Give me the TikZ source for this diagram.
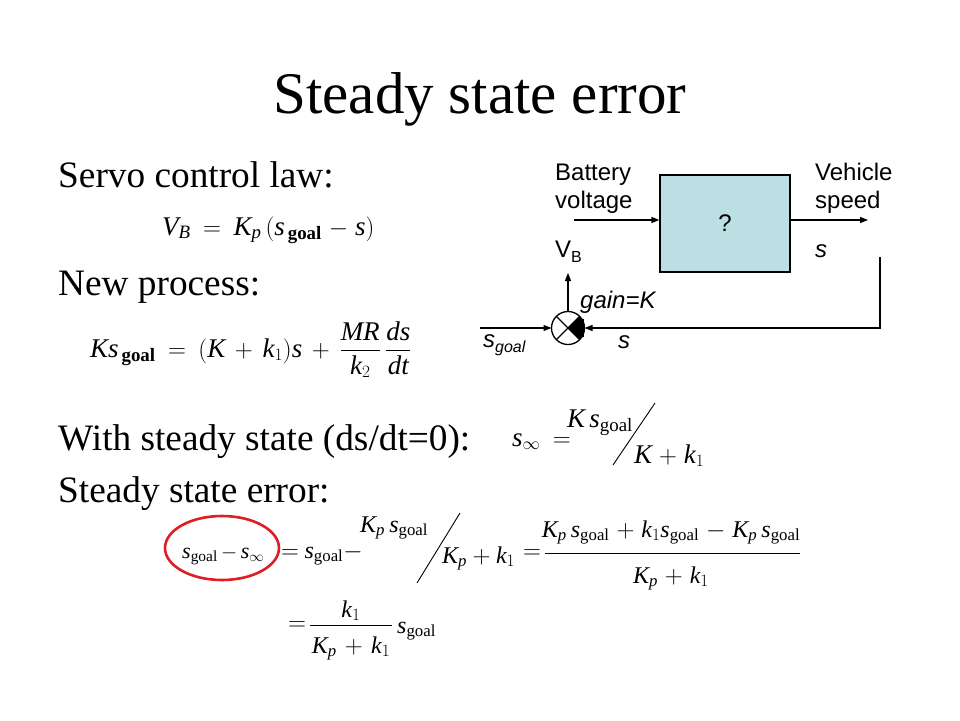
\documentclass[tikz,border=0pt]{standalone}
\usepackage{amsmath}
\usepackage{fontspec}
\setmainfont{Liberation Serif}
\newfontfamily\arialf{Liberation Sans}
\DeclareSymbolFont{letters}{TU}{\rmdefault}{m}{it}
\usetikzlibrary{arrows.meta}
\definecolor{boxfill}{RGB}{187,223,227}
\definecolor{circred}{RGB}{222,30,36}
\tikzset{
  titletxt/.style={inner sep=0pt, anchor=base, font=\fontsize{59}{64}\selectfont},
  bodytxt/.style={inner sep=0pt, anchor=base west, font=\fontsize{37.3}{42}\selectfont},
  eqbig/.style={inner sep=0pt, font=\fontsize{27}{30}\selectfont},
  eqsmall/.style={inner sep=0pt, font=\fontsize{24}{28}\selectfont},
  lab/.style={inner sep=0pt, anchor=base west, font=\arialf\fontsize{24}{28}\selectfont},
  conn/.style={line width=1.3pt, -{Triangle[length=8pt,width=6pt]}},
  blk/.style={draw, line width=1.3pt, fill=boxfill, minimum width=130pt, minimum height=97pt, inner sep=0pt},
  slash/.style={line width=0.9pt},
  fracbar/.style={line width=1pt},
}
\newcommand{\gl}{\mathrm{goal}}
\newcommand{\gb}{\mathbf{goal}}
\begin{document}
\begin{tikzpicture}[x=1pt,y=-1pt]
\thickmuskip=9mu plus 2mu
\medmuskip=5mu plus 2mu
\useasboundingbox[fill=white] (0,0) rectangle (960,720);
% title and body text
\node[titletxt] (title) at (480,113) {Steady state error};
\node[bodytxt] (servo) at (58,187) {Servo control law:};
\node[bodytxt] (newp) at (58,295) {New process:};
\node[bodytxt] (withss) at (58,450) {With steady state (ds/dt=0):};
\node[bodytxt] (sserr) at (58,502) {Steady state error:};
% equation 1
\node[eqbig, anchor=base west] (eq1) at (162,235) {$V_{B} = K_{p}\,(s_{\,\gb} - s)$};
% equation 2
\node[eqbig, anchor=base west] (eq2) at (90,357) {$\medmuskip=7mu Ks_{\,\gb} = (K + k_1)s + \dfrac{MR}{k_2}\,\dfrac{ds}{dt}$};
% equation 3 (slanted fraction)
\node[eqbig, anchor=base west] (eq3a) at (512,446) {$s_\infty =$};
\node[eqbig, anchor=base west] (eq3n) at (567,427) {$K\,s_{\gl}$};
\draw[slash] (613,465) -- (655,403);
\node[eqbig, anchor=base west] (eq3d) at (634,463) {$K + k_1$};
% equation 4
\node[eqsmall, anchor=base west, font=\fontsize{22}{28}\selectfont] (eq4a) at (182,558) {$\medmuskip=3mu s_{\gl} - s_\infty$};
\node[eqsmall, anchor=base west] (eq4b) at (281,558) {$\medmuskip=3mu\thickmuskip=4mu = s_{\gl} -$};
\node[eqsmall, anchor=base west] (eq4n) at (360,532) {$K_p\, s_{\gl}$};
\draw[slash] (417,583) -- (460,513);
\node[eqsmall, anchor=base west] (eq4d) at (442,563) {$\medmuskip=4mu K_p + k_1$};
\node[eqsmall, anchor=base west] (eq4e) at (523,558) {$=$};
\node[eqsmall, anchor=base] (eq4fn) at (671,537) {$K_p\, s_{\gl} + k_1 s_{\gl} - K_p\, s_{\gl}$};
\draw[fracbar] (545,553) -- (800,553);
\node[eqsmall, anchor=base] (eq4fd) at (671,583) {$K_p + k_1$};
\draw[circred, line width=2.6pt] (222,548) ellipse [x radius=57, y radius=32];
% equation 5
\node[eqsmall, anchor=base west] (eq5a) at (288,630) {$=$};
\node[eqsmall, anchor=base] (eq5n) at (351,617) {$k_1$};
\draw[fracbar] (310,625) -- (392,625);
\node[eqsmall, anchor=base] (eq5d) at (351,653) {$\medmuskip=6mu K_p + k_1$};
\node[eqsmall, anchor=base west] (eq5s) at (397,633) {$s_{\gl}$};
% block diagram
\node[blk] (plant) at (725,223.5) {\arialf\fontsize{24}{28}\selectfont ?};
\coordinate (vin) at (574,220);
\coordinate (vout) at (868,220);
\coordinate (fbtop) at (880,257);
\coordinate (fbcorner) at (880,328);
\coordinate (sgin) at (480,328);
\coordinate (vbup) at (568,273);
\node[circle, draw, line width=1.3pt, minimum size=33pt, inner sep=0pt, outer sep=0pt] (sum) at (568,328) {};
\fill (sum.center) -- ++(-45:16.5) arc[start angle=-45, end angle=45, radius=16.5] -- cycle;
\fill (576,319) rectangle (584,337);
\draw[line width=1.3pt] (sum.north west) -- (sum.south east) (sum.north east) -- (sum.south west);
\draw[conn] (vin) -- (plant.west |- vin);
\draw[conn] (plant.east |- vout) -- (vout);
\draw[conn] (fbtop) -- (fbcorner) -- (sum.east);
\draw[conn] (sgin) -- (sum.west);
\draw[conn] (sum.north) -- (vbup);
\node[lab] (bat1) at (555,180) {Battery};
\node[lab] (bat2) at (555,208) {voltage};
\node[lab] (veh1) at (815,180) {Vehicle};
\node[lab] (veh2) at (815,208) {speed};
\node[lab] (vb) at (555,257) {V\raisebox{-5pt}{\fontsize{16}{18}\selectfont B}};
\node[lab] (sout) at (815,257) {\itshape s};
\node[lab] (gain) at (580,308) {\itshape gain=K};
\node[lab] (sgoal) at (483,347) {\itshape s\raisebox{-5pt}{\fontsize{16}{18}\selectfont goal}};
\node[lab] (sfb) at (618,348) {\itshape s};
\end{tikzpicture}
\end{document}
